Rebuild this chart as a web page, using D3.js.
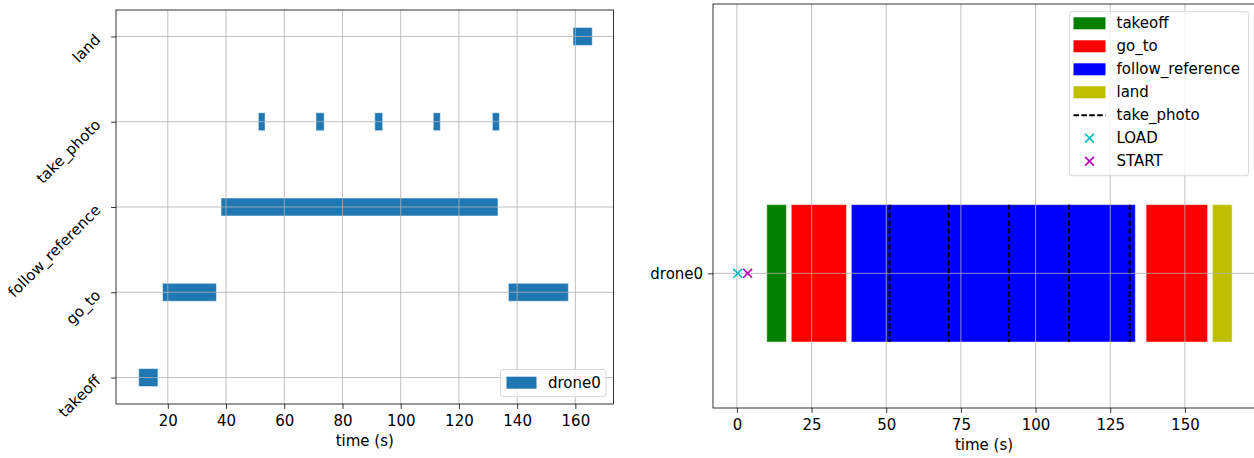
<!DOCTYPE html>
<html>
<head>
<meta charset="UTF-8"/>
<title>Mission timeline</title>
<script src="https://d3js.org/d3.v7.min.js"></script>
<style>
body { margin: 0; background: #fff; }
svg { display: block; font-family: 'DejaVu Sans', sans-serif; }
text { font-size: 15px; fill: #000; font-family: 'DejaVu Sans', sans-serif; }
.grid line { stroke: #b0b0b0; stroke-width: 0.8; }
.axis path, .axis line { stroke: #000; stroke-width: 0.8; }
.spine { fill: none; stroke: #000; stroke-width: 0.8; }
</style>
</head>
<body>
<svg width="1254" height="458"></svg>
<script>
// --- data ---
const categories = ['takeoff', 'go_to', 'follow_reference', 'take_photo', 'land'];
const segTask  = ['takeoff', 'go_to', 'follow_reference', 'take_photo', 'take_photo', 'take_photo', 'take_photo', 'take_photo', 'go_to', 'land'];
const segStart = [10.0, 18.2, 38.3, 51.1, 70.9, 91.1, 111.2, 131.5, 137.0, 159.2];
const segEnd   = [16.6, 36.7, 133.4, 53.4, 73.7, 93.8, 113.6, 133.9, 157.6, 165.8];
const eventNames = ['LOAD', 'START'];
const eventTimes = [0.3, 3.6];
const leftTicks  = [20, 40, 60, 80, 100, 120, 140, 160];
const rightTicks = [0, 25, 50, 75, 100, 125, 150];
const droneName = 'drone0';

const taskColor = {takeoff: '#008000', go_to: '#ff0000', follow_reference: '#0000ff', land: '#bfbf00'};
const eventColor = {LOAD: '#00bfbf', START: '#bf00bf'};

const segs = segTask.map((t, i) => ({task: t, start: segStart[i], end: segEnd[i]}));
const svg = d3.select('svg');

// ---------------- left chart ----------------
const L = {left: 116, right: 613.5, top: 10, bottom: 404};
const xL = d3.scaleLinear().domain([2.2, 173.1]).range([L.left, L.right]);
const yL = d3.scaleLinear().domain([-0.31, 4.31]).range([L.bottom, L.top]);
const barH = 0.21;

const left = svg.append('g');

left.selectAll('rect.bar')
  .data(segs)
  .enter().append('rect')
  .attr('class', 'bar')
  .attr('x', d => xL(d.start))
  .attr('width', d => xL(d.end) - xL(d.start))
  .attr('y', d => yL(categories.indexOf(d.task) + barH / 2))
  .attr('height', d => yL(categories.indexOf(d.task) - barH / 2) - yL(categories.indexOf(d.task) + barH / 2))
  .attr('fill', '#1f77b4')
  .attr('stroke', '#ffffff')
  .attr('stroke-opacity', 0.45)
  .attr('stroke-width', 1);

// grid (on top of bars like matplotlib)
left.append('g').attr('class', 'grid')
  .selectAll('line.v').data(leftTicks).enter().append('line')
  .attr('x1', d => xL(d)).attr('x2', d => xL(d))
  .attr('y1', L.top).attr('y2', L.bottom);
left.append('g').attr('class', 'grid')
  .selectAll('line.h').data(categories).enter().append('line')
  .attr('y1', (d, i) => yL(i)).attr('y2', (d, i) => yL(i))
  .attr('x1', L.left).attr('x2', L.right);

left.append('g').attr('class', 'axis')
  .attr('transform', `translate(0, ${L.bottom})`)
  .call(d3.axisBottom(xL).tickValues(leftTicks).tickSize(4.9).tickPadding(6.5).tickSizeOuter(0))
  .call(g => g.select('.domain').remove());

const yAxisL = left.append('g').attr('class', 'axis')
  .attr('transform', `translate(${L.left}, 0)`)
  .call(d3.axisLeft(yL).tickValues(d3.range(categories.length)).tickFormat(i => categories[i]).tickSize(4.9).tickSizeOuter(0))
  .call(g => g.select('.domain').remove());
yAxisL.selectAll('text')
  .attr('x', 0).attr('dy', null)
  .attr('dominant-baseline', 'central')
  .attr('text-anchor', 'end')
  .attr('transform', 'translate(-18, 0) rotate(-45)');

left.append('rect').attr('class', 'spine')
  .attr('x', L.left).attr('y', L.top)
  .attr('width', L.right - L.left).attr('height', L.bottom - L.top);

left.append('text')
  .attr('x', (L.left + L.right) / 2).attr('y', L.bottom + 42)
  .attr('text-anchor', 'middle')
  .text('time (s)');

// left legend
const legL = left.append('g');
legL.append('rect')
  .attr('x', 500.5).attr('y', 369.5).attr('width', 105.5).attr('height', 27)
  .attr('rx', 2.5).attr('fill', '#fff').attr('fill-opacity', 0.8)
  .attr('stroke', '#d9d9d9').attr('stroke-width', 1);
legL.append('rect')
  .attr('x', 506.5).attr('y', 376.7).attr('width', 30).attr('height', 12)
  .attr('fill', '#1f77b4');
legL.append('text')
  .attr('x', 548).attr('y', 382.5).attr('dominant-baseline', 'central')
  .text(droneName);

// ---------------- right chart ----------------
const R = {left: 713, right: 1256.6, top: 4, bottom: 408};
const xR = d3.scaleLinear().domain([-8, 174]).range([R.left, R.right]);
const yR = d3.scaleLinear().domain([-0.98, 1.96]).range([R.bottom, R.top]);

const right = svg.append('g');

right.selectAll('rect.bar')
  .data(segs.filter(d => d.task !== 'take_photo'))
  .enter().append('rect')
  .attr('x', d => xR(d.start))
  .attr('width', d => xR(d.end) - xR(d.start))
  .attr('y', yR(0.5))
  .attr('height', yR(-0.5) - yR(0.5))
  .attr('fill', d => taskColor[d.task])
  .attr('stroke', '#ffffff')
  .attr('stroke-opacity', 0.5)
  .attr('stroke-width', 1);

right.append('g').attr('class', 'grid')
  .selectAll('line').data(rightTicks).enter().append('line')
  .attr('x1', d => xR(d)).attr('x2', d => xR(d))
  .attr('y1', R.top).attr('y2', R.bottom);
right.append('g').attr('class', 'grid')
  .append('line')
  .attr('x1', R.left).attr('x2', R.right)
  .attr('y1', yR(0)).attr('y2', yR(0));

// take_photo markers as dashed lines
right.selectAll('line.photo')
  .data(segs.filter(d => d.task === 'take_photo'))
  .enter().append('line')
  .attr('x1', d => xR(d.start)).attr('x2', d => xR(d.start))
  .attr('y1', yR(0.5)).attr('y2', yR(-0.5))
  .attr('stroke', '#000').attr('stroke-width', 2)
  .attr('stroke-dasharray', '5.5,2.4');

const xMark = (g, cx, cy, color) => {
  const s = 4.4;
  g.append('path')
    .attr('d', `M${cx - s},${cy - s}L${cx + s},${cy + s}M${cx - s},${cy + s}L${cx + s},${cy - s}`)
    .attr('stroke', color).attr('stroke-width', 1.7).attr('fill', 'none');
};
eventNames.forEach((n, i) => xMark(right, xR(eventTimes[i]), yR(0), eventColor[n]));

right.append('g').attr('class', 'axis')
  .attr('transform', `translate(0, ${R.bottom})`)
  .call(d3.axisBottom(xR).tickValues(rightTicks).tickSize(4.9).tickPadding(6.5).tickSizeOuter(0))
  .call(g => g.select('.domain').remove());

right.append('g').attr('class', 'axis')
  .attr('transform', `translate(${R.left}, 0)`)
  .call(d3.axisLeft(yR).tickValues([0]).tickFormat(() => droneName).tickSize(4.9).tickPadding(5).tickSizeOuter(0))
  .call(g => g.select('.domain').remove());

right.append('rect').attr('class', 'spine')
  .attr('x', R.left).attr('y', R.top)
  .attr('width', R.right - R.left).attr('height', R.bottom - R.top);

right.append('text')
  .attr('x', 984).attr('y', R.bottom + 42)
  .attr('text-anchor', 'middle')
  .text('time (s)');

// right legend
const legItems = ['takeoff', 'go_to', 'follow_reference', 'land', 'take_photo'].concat(eventNames);
const legR = right.append('g');
legR.append('rect')
  .attr('x', 1069.5).attr('y', 11.7).attr('width', 179).attr('height', 164)
  .attr('rx', 2.5).attr('fill', '#fff').attr('fill-opacity', 0.8)
  .attr('stroke', '#d9d9d9').attr('stroke-width', 1);
legItems.forEach((name, i) => {
  const cy = 23.3 + i * 23;
  if (taskColor[name]) {
    legR.append('rect')
      .attr('x', 1073.5).attr('y', cy - 6).attr('width', 32).attr('height', 12)
      .attr('fill', taskColor[name]);
  } else if (name === 'take_photo') {
    legR.append('line')
      .attr('x1', 1073.5).attr('x2', 1105.5).attr('y1', cy).attr('y2', cy)
      .attr('stroke', '#000').attr('stroke-width', 2)
      .attr('stroke-dasharray', '5.5,2.4');
  } else {
    xMark(legR, 1089.5, cy, eventColor[name]);
  }
  legR.append('text')
    .attr('x', 1116.5).attr('y', cy).attr('dominant-baseline', 'central')
    .text(name);
});
</script>
</body>
</html>
